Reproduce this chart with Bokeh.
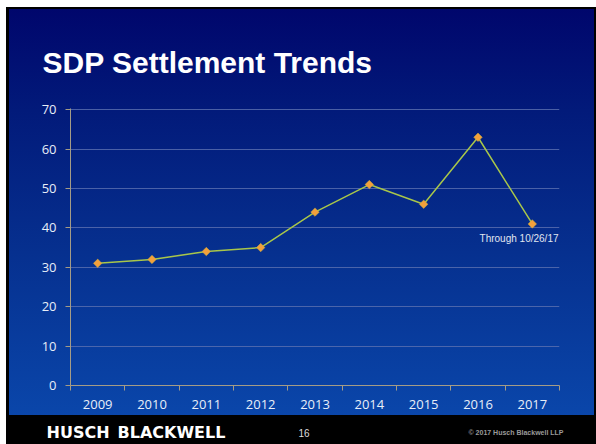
from bokeh.plotting import figure
from bokeh.layouts import column
from bokeh.models import Range1d, FixedTicker, ColumnDataSource
from bokeh.core.properties import value
from bokeh.embed import file_html
from bokeh.resources import INLINE

# ---- data ----
years = [2009, 2010, 2011, 2012, 2013, 2014, 2015, 2016, 2017]
settlements = [31, 32, 34, 35, 44, 51, 46, 63, 41]
y_ticks = [0, 10, 20, 30, 40, 50, 60, 70]
title_text = "SDP Settlement Trends"
note_text = "Through 10/26/17"
footer_logo = ["HUSCH", "BLACKWELL"]
footer_page = "16"
footer_copy = "\u00a9 2017 Husch Blackwell LLP"

W, H = 596, 444
TOP_H = 90           # title strip height
FOOT_H = 22          # footer strip height
MAIN_H = H - TOP_H - FOOT_H
FL, FR, FT, FB = 70, 559, 108, 385  # frame edges in canvas px


def strip(height):
    f = figure(width=W, height=height, output_backend="svg", toolbar_location=None,
               x_range=Range1d(0, W), y_range=Range1d(height, 0),
               x_axis_type=None, y_axis_type=None, frame_align=False,
               min_border=0, min_border_left=0, min_border_right=0,
               min_border_top=0, min_border_bottom=0)
    f.background_fill_color = None
    f.border_fill_color = None
    f.outline_line_color = None
    f.xgrid.visible = False
    f.ygrid.visible = False
    return f


# ---- title strip ----
top = strip(TOP_H)
top.text(x=[42], y=[62], text=[title_text], text_font=value("Liberation Sans"),
         text_font_style="bold", text_font_size="30px", text_color="#ffffff",
         text_baseline="alphabetic", text_align="left")

# ---- main chart ----
p = figure(width=W, height=MAIN_H, output_backend="svg", toolbar_location=None,
           x_range=Range1d(years[0] - 0.5, years[-1] + 0.5),
           y_range=Range1d(0, 70.3), frame_align=False,
           min_border_left=FL, min_border_right=W - FR,
           min_border_top=FT - TOP_H, min_border_bottom=TOP_H + MAIN_H - FB)
p.background_fill_color = None
p.border_fill_color = None
p.outline_line_color = None

axis_col = "#a59c86"
lab_col = "#e8eef8"

p.yaxis.ticker = FixedTicker(ticks=y_ticks)
p.yaxis.axis_line_color = axis_col
p.yaxis.major_tick_line_color = axis_col
p.yaxis.major_tick_out = 5
p.yaxis.major_tick_in = 0
p.yaxis.minor_tick_line_color = None
p.yaxis.major_label_standoff = 9
p.yaxis.major_label_text_font = "Open Sans"
p.yaxis.major_label_text_font_size = "13px"
p.yaxis.major_label_text_color = lab_col

p.xaxis.ticker = FixedTicker(ticks=years,
                             minor_ticks=[y - 0.5 for y in years] + [years[-1] + 0.5])
p.xaxis.major_label_overrides = {y: str(y) for y in years}
p.xaxis.axis_line_color = axis_col
p.xaxis.major_tick_line_color = None
p.xaxis.minor_tick_line_color = axis_col
p.xaxis.minor_tick_out = 5
p.xaxis.minor_tick_in = 0
p.xaxis.major_label_standoff = 8
p.xaxis.major_label_text_font = "Open Sans"
p.xaxis.major_label_text_font_size = "13px"
p.xaxis.major_label_text_color = lab_col

p.xgrid.grid_line_color = None
p.ygrid.ticker = FixedTicker(ticks=y_ticks[1:])
p.ygrid.grid_line_color = "#5d70b0"
p.ygrid.grid_line_alpha = 0.8
p.ygrid.grid_line_width = 1

src = ColumnDataSource(dict(year=years, n=settlements))
p.line("year", "n", source=src, line_color="#a8c64a", line_width=1.5)
p.scatter("year", "n", source=src, marker="square", angle=0.785398, size=6,
          fill_color="#f2a03c", line_color="#c9b040", line_width=0.5)

# note under the last point, kept inside the frame
p.text(x=[years[-1] + 0.5], y=[settlements[-1]], text=[note_text],
       text_font=value("Liberation Sans"), text_font_size="10px",
       text_color="#e0e6f0", text_align="right", text_baseline="alphabetic",
       x_offset=-1, y_offset=15)

# ---- footer strip ----
foot = strip(FOOT_H)
off = H - FOOT_H
foot.text(x=[46, 117], y=[438 - off - 6] * 2, text=footer_logo, text_font=value("DejaVu Sans"),
          text_font_style="bold", text_font_size="16px", text_color="#ffffff",
          text_baseline="alphabetic")
foot.text(x=[298], y=[436 - off - 3.7], text=[footer_page],
          text_font=value("Liberation Sans"), text_font_size="10px",
          text_color="#dddddd", text_baseline="alphabetic")
foot.text(x=[468], y=[435 - off - 2.6], text=[footer_copy],
          text_font=value("Liberation Sans"), text_font_style="bold",
          text_font_size="7px", text_color="#9a9a9a", text_baseline="alphabetic")

layout = column(top, p, foot, spacing=0)
layout.styles = {
    "background": (
        "linear-gradient(to bottom, #00066c 0%, #021a7a 25%, #06308f 60%, #0a46aa 100%) 9px 9px / 585px 406px no-repeat, "
        "linear-gradient(#000, #000) 6px 7px / 590px 437px no-repeat, #ffffff"
    )
}

open("out.html", "w").write(file_html(layout, INLINE))
